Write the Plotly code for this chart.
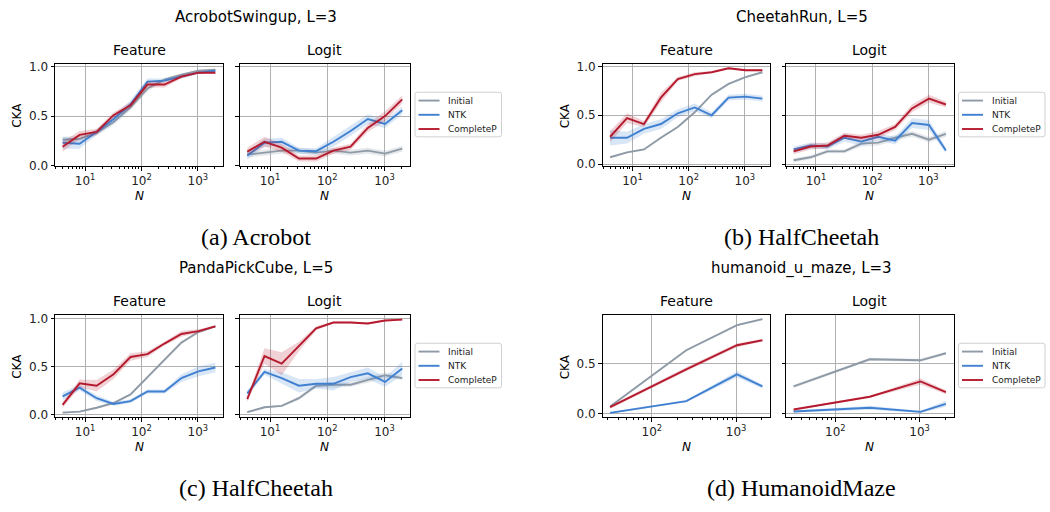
import math
import plotly.graph_objects as go

# ---------------- data ----------------
N = [4, 8, 16, 32, 64, 128, 256, 512, 1024, 2048]
N_MAZE = [32, 256, 1024, 2048]
SERIES_NAMES = ["Initial", "NTK", "CompleteP"]
X_TICKS = [10, 100, 1000]
X_TICK_TEXT = ["10<sup>1</sup>", "10<sup>2</sup>", "10<sup>3</sup>"]

# (a) AcrobotSwingup, L=3
ACRO_FEAT_INITIAL = [0.26, 0.27, 0.33, 0.44, 0.59, 0.78, 0.87, 0.92, 0.96, 0.97]
ACRO_FEAT_NTK = [0.23, 0.22, 0.34, 0.47, 0.62, 0.85, 0.86, 0.90, 0.94, 0.96]
ACRO_FEAT_CP = [0.19, 0.31, 0.34, 0.51, 0.61, 0.82, 0.82, 0.90, 0.94, 0.94]
ACRO_FEAT_INITIAL_ERR = [0.03, 0.03, 0.03, 0.03, 0.03, 0.03, 0.02, 0.01, 0.01, 0.01]
ACRO_FEAT_NTK_ERR = [0.06, 0.05, 0.03, 0.04, 0.04, 0.03, 0.02, 0.02, 0.01, 0.01]
ACRO_FEAT_CP_ERR = [0.05, 0.04, 0.03, 0.03, 0.03, 0.03, 0.03, 0.02, 0.01, 0.01]
ACRO_LOGIT_INITIAL = [0.11, 0.13, 0.15, 0.15, 0.13, 0.15, 0.13, 0.15, 0.12, 0.17]
ACRO_LOGIT_NTK = [0.10, 0.23, 0.24, 0.15, 0.145, 0.24, 0.35, 0.47, 0.42, 0.56]
ACRO_LOGIT_CP = [0.14, 0.24, 0.18, 0.07, 0.07, 0.15, 0.19, 0.38, 0.50, 0.67]
ACRO_LOGIT_INITIAL_ERR = [0.03, 0.03, 0.03, 0.03, 0.03, 0.03, 0.03, 0.03, 0.03, 0.03]
ACRO_LOGIT_NTK_ERR = [0.04, 0.04, 0.04, 0.03, 0.03, 0.05, 0.05, 0.05, 0.04, 0.04]
ACRO_LOGIT_CP_ERR = [0.04, 0.05, 0.04, 0.03, 0.03, 0.03, 0.03, 0.04, 0.05, 0.04]

# (b) CheetahRun, L=5
CHEETAH_FEAT_INITIAL = [0.07, 0.12, 0.15, 0.27, 0.38, 0.53, 0.71, 0.82, 0.89, 0.94]
CHEETAH_FEAT_NTK = [0.27, 0.27, 0.36, 0.41, 0.52, 0.58, 0.50, 0.68, 0.69, 0.67]
CHEETAH_FEAT_CP = [0.28, 0.47, 0.41, 0.68, 0.87, 0.92, 0.94, 0.98, 0.96, 0.96]
CHEETAH_FEAT_INITIAL_ERR = [0.01, 0.01, 0.01, 0.01, 0.01, 0.01, 0.01, 0.01, 0.01, 0.01]
CHEETAH_FEAT_NTK_ERR = [0.08, 0.06, 0.05, 0.05, 0.04, 0.04, 0.03, 0.03, 0.03, 0.03]
CHEETAH_FEAT_CP_ERR = [0.06, 0.05, 0.03, 0.05, 0.02, 0.02, 0.01, 0.01, 0.01, 0.01]
CHEETAH_LOGIT_INITIAL = [0.04, 0.07, 0.13, 0.13, 0.21, 0.22, 0.27, 0.31, 0.25, 0.31]
CHEETAH_LOGIT_NTK = [0.15, 0.19, 0.18, 0.27, 0.23, 0.28, 0.24, 0.42, 0.40, 0.14]
CHEETAH_LOGIT_CP = [0.13, 0.18, 0.19, 0.29, 0.27, 0.30, 0.38, 0.57, 0.67, 0.61]
CHEETAH_LOGIT_INITIAL_ERR = [0.02, 0.02, 0.02, 0.02, 0.03, 0.03, 0.03, 0.03, 0.03, 0.03]
CHEETAH_LOGIT_NTK_ERR = [0.03, 0.03, 0.03, 0.04, 0.04, 0.03, 0.04, 0.05, 0.05, 0.03]
CHEETAH_LOGIT_CP_ERR = [0.03, 0.03, 0.03, 0.03, 0.03, 0.04, 0.03, 0.04, 0.04, 0.03]

# (c) PandaPickCube, L=5
PANDA_FEAT_INITIAL = [0.02, 0.03, 0.07, 0.12, 0.21, 0.39, 0.58, 0.75, 0.86, 0.92]
PANDA_FEAT_NTK = [0.19, 0.28, 0.17, 0.11, 0.14, 0.24, 0.24, 0.38, 0.45, 0.49]
PANDA_FEAT_CP = [0.10, 0.325, 0.30, 0.42, 0.60, 0.63, 0.74, 0.84, 0.87, 0.92]
PANDA_FEAT_INITIAL_ERR = [0.01, 0.01, 0.01, 0.01, 0.01, 0.01, 0.01, 0.01, 0.01, 0.01]
PANDA_FEAT_NTK_ERR = [0.04, 0.03, 0.03, 0.02, 0.02, 0.02, 0.02, 0.04, 0.05, 0.05]
PANDA_FEAT_CP_ERR = [0.03, 0.04, 0.06, 0.05, 0.04, 0.03, 0.02, 0.03, 0.02, 0.01]
PANDA_LOGIT_INITIAL = [0.025, 0.075, 0.09, 0.17, 0.30, 0.31, 0.31, 0.36, 0.41, 0.38]
PANDA_LOGIT_NTK = [0.22, 0.445, 0.38, 0.30, 0.32, 0.32, 0.39, 0.43, 0.34, 0.48]
PANDA_LOGIT_CP = [0.16, 0.61, 0.53, 0.71, 0.90, 0.96, 0.96, 0.95, 0.98, 0.99]
PANDA_LOGIT_INITIAL_ERR = [0.01, 0.01, 0.01, 0.02, 0.02, 0.03, 0.02, 0.03, 0.03, 0.02]
PANDA_LOGIT_NTK_ERR = [0.03, 0.03, 0.06, 0.07, 0.05, 0.07, 0.05, 0.06, 0.05, 0.07]
PANDA_LOGIT_CP_ERR = [0.03, 0.08, 0.12, 0.05, 0.02, 0.01, 0.01, 0.01, 0.01, 0.01]

# (d) humanoid_u_maze, L=3
MAZE_FEAT_INITIAL = [0.07, 0.63, 0.88, 0.94]
MAZE_FEAT_NTK = [0.007, 0.123, 0.39, 0.27]
MAZE_FEAT_CP = [0.063, 0.44, 0.68, 0.73]
MAZE_FEAT_INITIAL_ERR = [0.01, 0.01, 0.01, 0.01]
MAZE_FEAT_NTK_ERR = [0.01, 0.01, 0.03, 0.02]
MAZE_FEAT_CP_ERR = [0.015, 0.02, 0.02, 0.01]
MAZE_LOGIT_INITIAL = [0.27, 0.54, 0.53, 0.60]
MAZE_LOGIT_NTK = [0.02, 0.057, 0.017, 0.097]
MAZE_LOGIT_CP = [0.04, 0.167, 0.32, 0.213]
MAZE_LOGIT_INITIAL_ERR = [0.015, 0.015, 0.015, 0.015]
MAZE_LOGIT_NTK_ERR = [0.01, 0.02, 0.01, 0.03]
MAZE_LOGIT_CP_ERR = [0.01, 0.01, 0.03, 0.02]

PANEL_TITLES = ["AcrobotSwingup, L=3", "CheetahRun, L=5", "PandaPickCube, L=5", "humanoid_u_maze, L=3"]
PANEL_CAPTIONS = ["(a) Acrobot", "(b) HalfCheetah", "(c) HalfCheetah", "(d) HumanoidMaze"]
SUBPLOT_TITLES = ["Feature", "Logit"]

# ---------------- style / layout ----------------
W, H = 1050, 512
COLORS = ["#8f9aa7", "#3f80d1", "#b51a2e"]
FILLS = ["rgba(143,154,167,0.22)", "rgba(63,128,209,0.2)", "rgba(181,26,46,0.2)"]
FONT = "DejaVu Sans"
SERIF = "Liberation Serif"

PANEL_LAYOUT = [
    dict(ox=0, oy=0, feat=(55, 223), logit=(239.5, 410), yrange=[-0.01, 1.03], yticks=[0, 0.5, 1.0]),
    dict(ox=520, oy=0, feat=(602.5, 770), logit=(786, 953.5), yrange=[-0.024, 1.026], yticks=[0, 0.5, 1.0]),
    dict(ox=0, oy=256, feat=(55, 223), logit=(239.5, 410), yrange=[-0.031, 1.04], yticks=[0, 0.5, 1.0]),
    dict(ox=520, oy=256, feat=(602.5, 770), logit=(786, 953.5), yrange=[-0.039, 0.983], yticks=[0, 0.5]),
]
AX_TOP, AX_BOT = 61, 165.7

PANEL_DATA = [
    (N, [[ACRO_FEAT_INITIAL, ACRO_FEAT_NTK, ACRO_FEAT_CP],
         [ACRO_LOGIT_INITIAL, ACRO_LOGIT_NTK, ACRO_LOGIT_CP]],
        [[ACRO_FEAT_INITIAL_ERR, ACRO_FEAT_NTK_ERR, ACRO_FEAT_CP_ERR],
         [ACRO_LOGIT_INITIAL_ERR, ACRO_LOGIT_NTK_ERR, ACRO_LOGIT_CP_ERR]]),
    (N, [[CHEETAH_FEAT_INITIAL, CHEETAH_FEAT_NTK, CHEETAH_FEAT_CP],
         [CHEETAH_LOGIT_INITIAL, CHEETAH_LOGIT_NTK, CHEETAH_LOGIT_CP]],
        [[CHEETAH_FEAT_INITIAL_ERR, CHEETAH_FEAT_NTK_ERR, CHEETAH_FEAT_CP_ERR],
         [CHEETAH_LOGIT_INITIAL_ERR, CHEETAH_LOGIT_NTK_ERR, CHEETAH_LOGIT_CP_ERR]]),
    (N, [[PANDA_FEAT_INITIAL, PANDA_FEAT_NTK, PANDA_FEAT_CP],
         [PANDA_LOGIT_INITIAL, PANDA_LOGIT_NTK, PANDA_LOGIT_CP]],
        [[PANDA_FEAT_INITIAL_ERR, PANDA_FEAT_NTK_ERR, PANDA_FEAT_CP_ERR],
         [PANDA_LOGIT_INITIAL_ERR, PANDA_LOGIT_NTK_ERR, PANDA_LOGIT_CP_ERR]]),
    (N_MAZE, [[MAZE_FEAT_INITIAL, MAZE_FEAT_NTK, MAZE_FEAT_CP],
              [MAZE_LOGIT_INITIAL, MAZE_LOGIT_NTK, MAZE_LOGIT_CP]],
             [[MAZE_FEAT_INITIAL_ERR, MAZE_FEAT_NTK_ERR, MAZE_FEAT_CP_ERR],
              [MAZE_LOGIT_INITIAL_ERR, MAZE_LOGIT_NTK_ERR, MAZE_LOGIT_CP_ERR]]),
]

MINOR = [m * d for d in (1, 10, 100, 1000) for m in range(2, 10)]


def px_x(px):
    return px / W


def px_y(py):
    return 1 - py / H


def rounded_rect(x0, y0, x1, y1, r):
    X = lambda v: f"{px_x(v):.5f}"
    Y = lambda v: f"{px_y(v):.5f}"
    return (f"M {X(x0 + r)},{Y(y0)} L {X(x1 - r)},{Y(y0)} Q {X(x1)},{Y(y0)} {X(x1)},{Y(y0 + r)} "
            f"L {X(x1)},{Y(y1 - r)} Q {X(x1)},{Y(y1)} {X(x1 - r)},{Y(y1)} "
            f"L {X(x0 + r)},{Y(y1)} Q {X(x0)},{Y(y1)} {X(x0)},{Y(y1 - r)} "
            f"L {X(x0)},{Y(y0 + r)} Q {X(x0)},{Y(y0)} {X(x0 + r)},{Y(y0)} Z")


fig = go.Figure()
annotations = []
shapes = []
layout = dict(
    width=W, height=H, margin=dict(l=0, r=0, t=0, b=0),
    paper_bgcolor="white", plot_bgcolor="white",
    font=dict(family=FONT, size=11, color="black"),
    showlegend=False,
)


def add_text(text, x, y, size, family=FONT, angle=0, color="black", xanchor="center"):
    annotations.append(dict(
        text=text, x=px_x(x), y=px_y(y), xref="paper", yref="paper", showarrow=False,
        xanchor=xanchor, yanchor="middle", textangle=angle,
        font=dict(family=family, size=size, color=color)))


for p, (xs, means, errs) in enumerate(PANEL_DATA):
    pl = PANEL_LAYOUT[p]
    oy = pl["oy"]
    lo, hi = math.log10(xs[0]), math.log10(xs[-1])
    m = 0.05 * (hi - lo)
    xr = [lo - m, hi + m]
    for s in range(2):
        k = p * 2 + s + 1
        xa = "x" if k == 1 else f"x{k}"
        ya = "y" if k == 1 else f"y{k}"
        x0, x1 = pl["feat"] if s == 0 else pl["logit"]
        common = dict(showline=True, linecolor="black", linewidth=1, mirror=True,
                      ticks="outside", ticklen=3.5, tickwidth=1, tickcolor="black",
                      showgrid=True, gridcolor="#b0b0b0", gridwidth=1, zeroline=False)
        layout["xaxis" if k == 1 else f"xaxis{k}"] = dict(
            common, type="log", range=xr, domain=[px_x(x0), px_x(x1)], anchor=ya,
            tickmode="array", tickvals=X_TICKS, ticktext=X_TICK_TEXT,
            tickfont=dict(family=FONT, size=12, color="#222"),
            minor=dict(ticks="outside", ticklen=2, tickwidth=0.8, tickcolor="black",
                       tickvals=MINOR, showgrid=False),
        )
        layout["yaxis" if k == 1 else f"yaxis{k}"] = dict(
            common, range=pl["yrange"], domain=[px_y(oy + AX_BOT), px_y(oy + AX_TOP)],
            anchor=xa, tickmode="array", tickvals=pl["yticks"],
            ticktext=[f"{v:.1f}" for v in pl["yticks"]], showticklabels=(s == 0),
            tickfont=dict(family=FONT, size=12, color="#222"),
        )
        for i in range(3):
            y = means[s][i]
            e = errs[s][i]
            upper = [a + b for a, b in zip(y, e)]
            lower = [a - b for a, b in zip(y, e)]
            fig.add_trace(go.Scatter(
                x=list(xs) + list(xs)[::-1], y=upper + lower[::-1], fill="toself",
                fillcolor=FILLS[i], line=dict(width=0), mode="lines", hoverinfo="skip",
                showlegend=False, xaxis=xa, yaxis=ya))
            fig.add_trace(go.Scatter(
                x=xs, y=y, mode="lines", name=SERIES_NAMES[i],
                line=dict(color=COLORS[i], width=1.9), xaxis=xa, yaxis=ya))
        cx = (x0 + x1) / 2
        add_text(SUBPLOT_TITLES[s], cx, oy + 46.5, 14)
        add_text("<i>N</i>", cx, oy + 195.5, 12)
    fx0 = pl["feat"][0]
    lx1 = pl["logit"][1]
    center = pl["ox"] + 256 if p % 2 == 0 else pl["ox"] + 281.5
    add_text(PANEL_TITLES[p], center, oy + 13.5, 15)
    add_text(PANEL_CAPTIONS[p], center, oy + 238, 24, family=SERIF)
    add_text("CKA", fx0 - 38, oy + 114, 12, angle=-90)
    # legend box (drawn like matplotlib's legend)
    bx0 = lx1 + 5
    by0 = oy + 90
    shapes.append(dict(type="path", path=rounded_rect(bx0, by0, bx0 + 86.5, by0 + 45.5, 2.5),
                       xref="paper", yref="paper", line=dict(color="#d0d0d0", width=1),
                       fillcolor="white", layer="above"))
    for i, name in enumerate(SERIES_NAMES):
        ry = by0 + 8.5 + i * 14.5
        shapes.append(dict(type="line", x0=px_x(bx0 + 3.5), x1=px_x(bx0 + 24.5),
                           y0=px_y(ry), y1=px_y(ry), xref="paper", yref="paper",
                           line=dict(color=COLORS[i], width=1.9), layer="above"))
        add_text(name, bx0 + 31, ry, 9, color="#222", xanchor="left")

layout["annotations"] = annotations
layout["shapes"] = shapes
fig.update_layout(**layout)
fig.write_html("out.html", config={"displayModeBar": False},
               post_script="document.body.style.margin='0';document.body.style.overflow='hidden';")
